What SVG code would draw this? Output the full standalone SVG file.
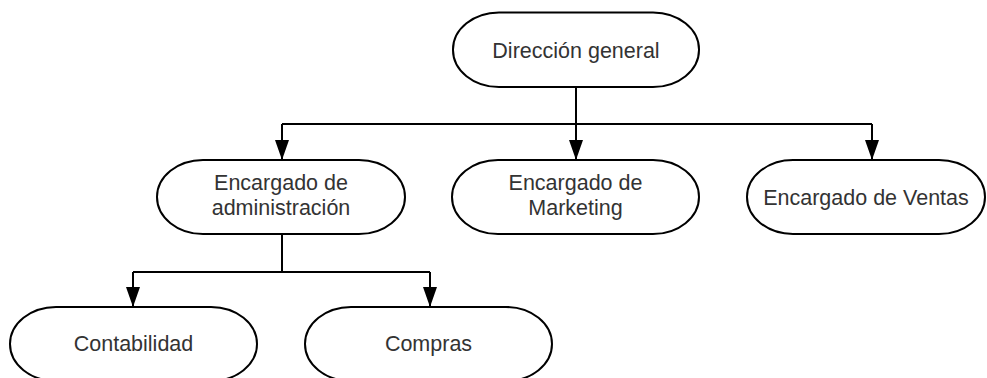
<svg xmlns="http://www.w3.org/2000/svg" width="987" height="378" viewBox="0 0 987 378">
<defs>
<style>
.node rect{fill:#fff;stroke:#000;stroke-width:2}
.node text{font-family:"Liberation Sans",Arial,sans-serif;font-size:21.5px;fill:#333;text-anchor:middle}
.conn path{fill:none;stroke:#000;stroke-width:2}
</style>
<marker id="arr" viewBox="0 0 20 14" refX="20" refY="7" markerWidth="20" markerHeight="14" markerUnits="userSpaceOnUse" orient="auto">
<path d="M0,0 L20,7 L0,14 z" fill="#000"/>
</marker>
</defs>
<rect width="987" height="378" fill="#fff"/>
<g id="connectors" class="conn">
<path d="M576,87 V160" marker-end="url(#arr)"/>
<path d="M282,124 H872"/>
<path d="M282,124 V160" marker-end="url(#arr)"/>
<path d="M872,124 V160" marker-end="url(#arr)"/>
<path d="M282,234 V272"/>
<path d="M133,272 H430"/>
<path d="M133,272 V307" marker-end="url(#arr)"/>
<path d="M430,272 V307" marker-end="url(#arr)"/>
</g>
<g id="direccion" class="node">
<rect x="453" y="12.5" width="246" height="74.5" rx="46" ry="37"/>
<text x="576" y="58">Dirección general</text>
</g>
<g id="administracion" class="node">
<rect x="157" y="160" width="248" height="74" rx="46" ry="37"/>
<text x="281" y="190">Encargado de</text>
<text x="281" y="215">administración</text>
</g>
<g id="marketing" class="node">
<rect x="452" y="160" width="247" height="74" rx="46" ry="37"/>
<text x="575.5" y="190">Encargado de</text>
<text x="575.5" y="215">Marketing</text>
</g>
<g id="ventas" class="node">
<rect x="747" y="160" width="238" height="74" rx="46" ry="37"/>
<text x="866" y="205">Encargado de Ventas</text>
</g>
<g id="contabilidad" class="node">
<rect x="10" y="307" width="247" height="74" rx="46" ry="37"/>
<text x="133.5" y="351">Contabilidad</text>
</g>
<g id="compras" class="node">
<rect x="305" y="307" width="247" height="74" rx="46" ry="37"/>
<text x="428.5" y="351">Compras</text>
</g>
</svg>
